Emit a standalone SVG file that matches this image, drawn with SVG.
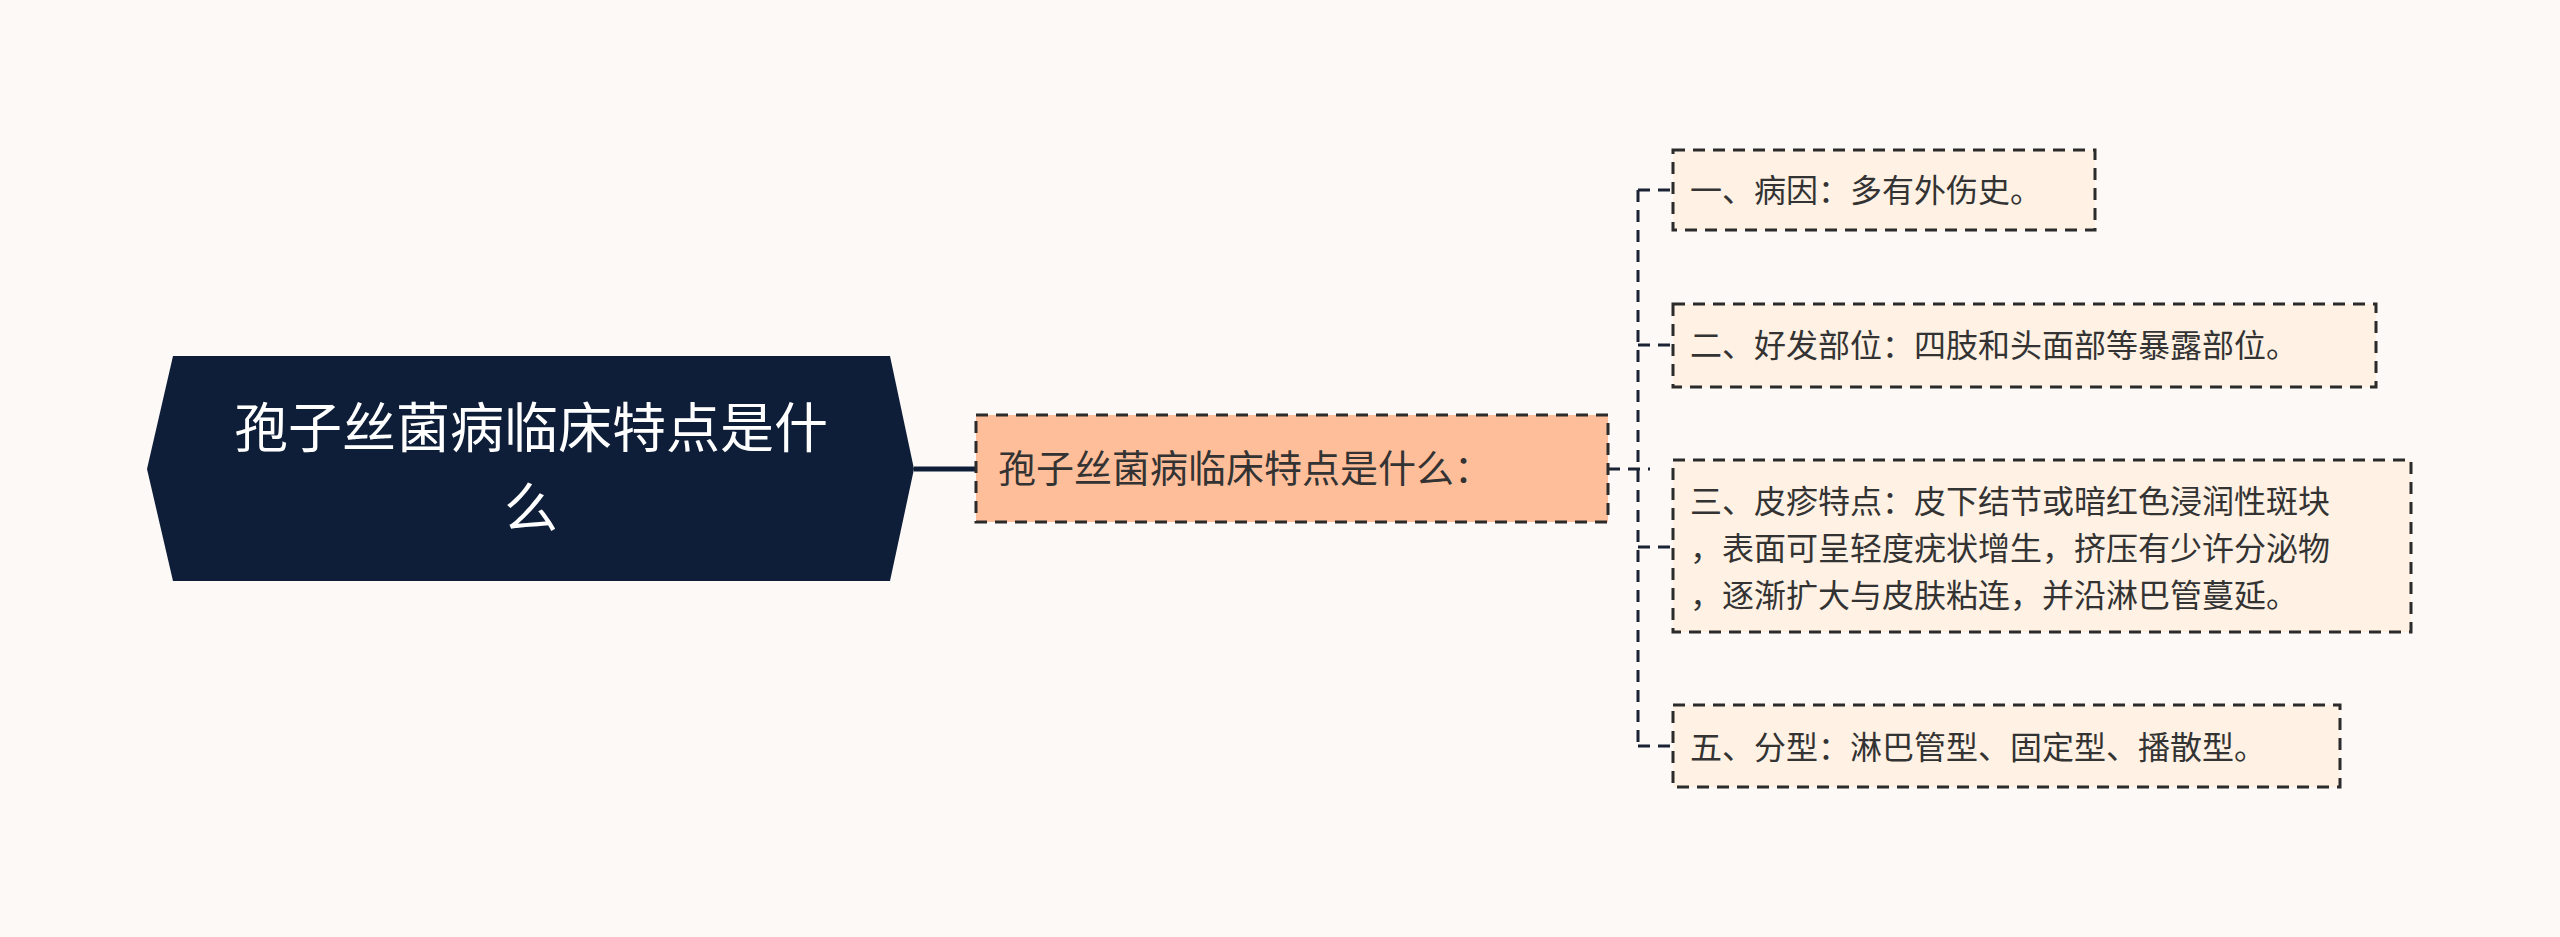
<svg xmlns="http://www.w3.org/2000/svg" width="2560" height="937" viewBox="0 0 2560 937">
<style>
text{font-family:"Noto Sans CJK SC","Noto Sans",sans-serif;}
.c{fill:#FFF1E3;stroke:#2B2B2B;stroke-width:3;stroke-dasharray:12 8;}
.ct{font-size:32px;fill:#333;}
.ln{fill:none;stroke:#1B2233;stroke-width:3;stroke-dasharray:12 8;}
</style>
<rect width="2560" height="937" fill="#FDF9F7"/>
<g id="connectors">
<line x1="914" y1="469" x2="976" y2="469" stroke="#0E1E38" stroke-width="5"/>
<path class="ln" d="M1608 469 H1650 M1638 190 V746 M1638 190 H1673 M1638 345 H1673 M1638 547 H1673 M1638 746 H1673"/>
</g>
<g id="root">
<polygon points="173,356 890,356 914,469 890,581 173,581 147,469" fill="#0E1E38"/>
<text x="531" y="448" font-size="54" fill="#fff" text-anchor="middle">孢子丝菌病临床特点是什</text>
<text x="531" y="528" font-size="54" fill="#fff" text-anchor="middle">么</text>
</g>
<g id="sub">
<rect x="976" y="415" width="632" height="107" fill="#FFBE9A" stroke="#2B2B2B" stroke-width="3" stroke-dasharray="12 8"/>
<text x="998" y="482" font-size="38" fill="#333">孢子丝菌病临床特点是什么：</text>
</g>
<g id="c1"><rect class="c" x="1673" y="150" width="422" height="80"/><text class="ct" x="1690" y="202">一、病因：多有外伤史。</text></g>
<g id="c2"><rect class="c" x="1673" y="304" width="703" height="83"/><text class="ct" x="1690" y="357">二、好发部位：四肢和头面部等暴露部位。</text></g>
<g id="c3"><rect class="c" x="1673" y="460" width="738" height="172"/>
<text class="ct" x="1690" y="513">三、皮疹特点：皮下结节或暗红色浸润性斑块</text>
<text class="ct" x="1690" y="560">，表面可呈轻度疣状增生，挤压有少许分泌物</text>
<text class="ct" x="1690" y="607">，逐渐扩大与皮肤粘连，并沿淋巴管蔓延。</text></g>
<g id="c4"><rect class="c" x="1673" y="705" width="667" height="82"/><text class="ct" x="1690" y="759">五、分型：淋巴管型、固定型、播散型。</text></g>
</svg>
